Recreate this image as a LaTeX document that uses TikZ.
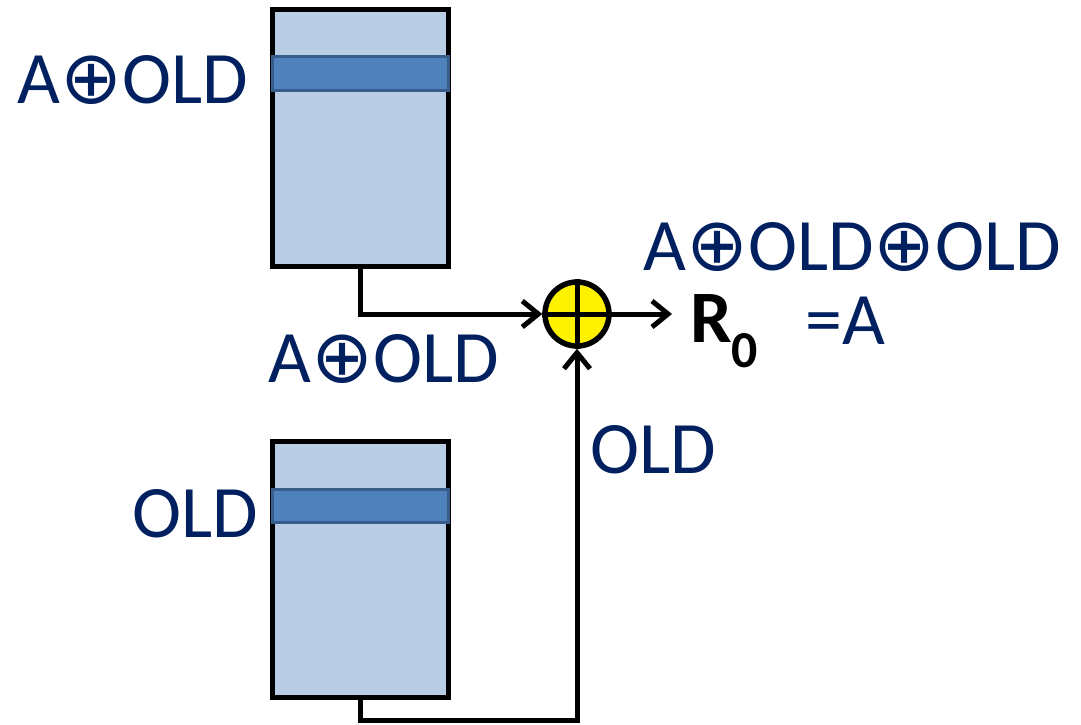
\documentclass[tikz,border=0pt]{standalone}
\usepackage{fontspec}
\setmainfont{Carlito}
\newfontfamily\symfont{DejaVu Sans}
\usetikzlibrary{arrows.meta}
\definecolor{navy}{HTML}{002060}
\definecolor{boxfill}{HTML}{B9CDE5}
\definecolor{bandfill}{HTML}{4F81BD}
\definecolor{banddraw}{HTML}{385D8A}
\newcommand{\xo}{{\symfont ⊕}}
\begin{document}
\begin{tikzpicture}[
    x=1pt, y=-1pt,
    membox/.style={draw, line width=5pt, fill=boxfill, minimum width=176pt, minimum height=256pt, inner sep=0pt},
    band/.style={draw=banddraw, line width=3pt, fill=bandfill, minimum width=176pt, minimum height=33pt, inner sep=0pt},
    lbl/.style={text=navy, inner sep=0pt, font=\fontsize{74}{76}\selectfont},
    wire/.style={line width=5pt},
    tip/.style={-{Straight Barb[length=16pt, width=26pt, line width=5pt]}}
]
    \useasboundingbox (0,0) rectangle (1081,725);
    % memory boxes
    \node [membox] (topmem) at (360,138) {};
    \node [band] (topband) at (360,73.5) {};
    \node [membox] (botmem) at (360,569.5) {};
    \node [band] (botband) at (360,505.5) {};
    % xor gate
    \node [circle, draw, line width=5.5pt, fill=yellow, minimum size=64pt, inner sep=0pt] (xor) at (577,314) {};
    \draw [line width=5pt] (xor.north) -- (xor.south) (xor.west) -- (xor.east);
    % wires
    \draw [wire, tip] (topmem.south) |- (xor.west);
    \coordinate (corner) at (577,720);
    \draw [wire, tip] (botmem.south) |- (corner) -- (xor.south);
    \coordinate (out) at (672,314);
    \draw [wire, tip] (xor.east) -- (out);
    % labels
    \node [lbl, anchor=base east] (toplbl) at (248,103) {A\xo OLD};
    \node [lbl, anchor=base east] (botlbl) at (258,537) {OLD};
    \node [lbl, anchor=base west] (midlbl) at (268,382) {A\xo OLD};
    \node [lbl, anchor=base west] (oldlbl) at (590,473) {OLD};
    \node [lbl, anchor=base west] (sumlbl) at (643,270) {A\xo OLD\xo OLD};
    \node [inner sep=0pt, anchor=base west, font=\fontsize{74}{76}\selectfont\bfseries] (res) at (690,342) {R\textsubscript{0}};
    \node [lbl, anchor=base west] (eqlbl) at (805,344) {=A};
\end{tikzpicture}
\end{document}
